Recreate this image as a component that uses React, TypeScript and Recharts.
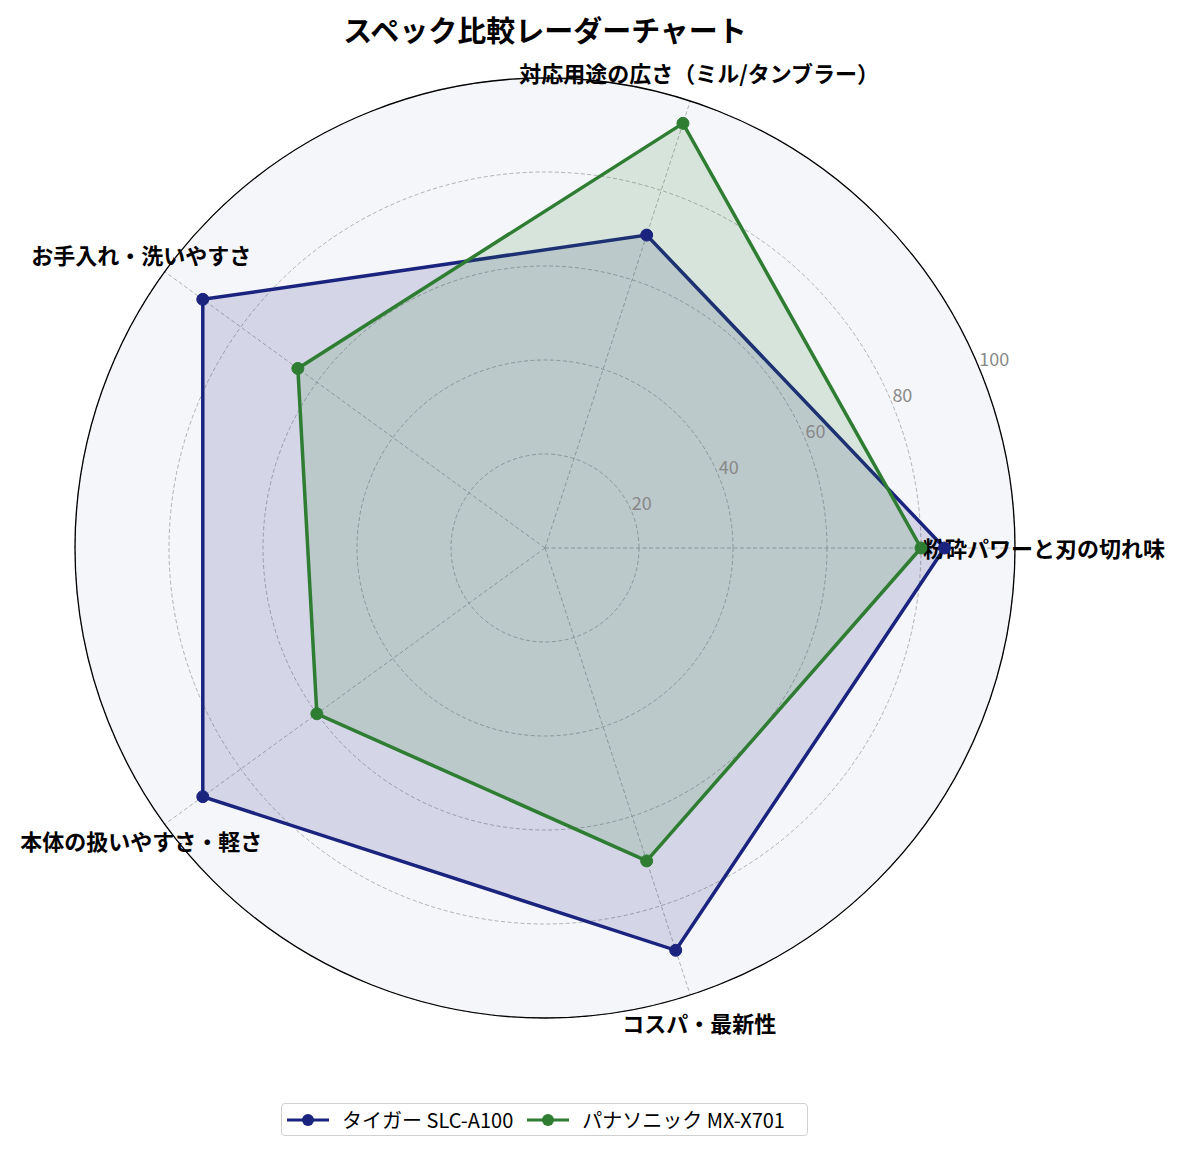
import React from 'react';
import {
  RadarChart,
  Radar,
  PolarGrid,
  PolarAngleAxis,
  PolarRadiusAxis,
  Legend,
} from 'recharts';

const categories = [
  '粉砕パワーと刃の切れ味',
  '対応用途の広さ（ミル/タンブラー）',
  'お手入れ・洗いやすさ',
  '本体の扱いやすさ・軽さ',
  'コスパ・最新性',
];
const tigerScores = [85, 70, 90, 90, 90];
const panasonicScores = [80, 95, 65, 60, 70];
const radialTicks = [20, 40, 60, 80, 100];
const seriesNames = ['タイガー SLC-A100', 'パナソニック MX-X701'];
const seriesColors = ['#1a237e', '#2e7d32'];

// the chart runs clockwise from the right, the reference counter-clockwise
const drawOrder = [0, 4, 3, 2, 1];
const data = drawOrder.map((i) => ({
  subject: categories[i],
  tiger: tigerScores[i],
  panasonic: panasonicScores[i],
}));

const W = 1184;
const H = 1152;
const CX = 545;
const CY = 548;
const R = 470;
const LABEL_R = 499;
const RADIAL_ANGLE = 22.5;
const FONT = '"Noto Sans CJK JP", "Noto Sans", sans-serif';

function AngleTick(props: any) {
  const { x, y, payload } = props;
  const dx = x - CX;
  const dy = y - CY;
  const d = Math.hypot(dx, dy) || 1;
  return (
    <text
      x={CX + (dx / d) * LABEL_R}
      y={CY + (dy / d) * LABEL_R - 1}
      textAnchor="middle"
      dominantBaseline="central"
      fontFamily={FONT}
      fontWeight="bold"
      fontSize={22}
      fill="#000"
    >
      {payload.value}
    </text>
  );
}

function RadiusTick(props: any) {
  const { payload } = props;
  if (!payload || payload.value === 0) return null;
  const r = (payload.value / 100) * R;
  const a = (RADIAL_ANGLE * Math.PI) / 180;
  return (
    <text
      x={CX + r * Math.cos(a)}
      y={CY - r * Math.sin(a) - 2}
      textAnchor="start"
      fontFamily={FONT}
      fontSize={18}
      fill="#888"
    >
      {payload.value}
    </text>
  );
}

function LegendBox() {
  return (
    <div
      style={{
        display: 'flex',
        alignItems: 'center',
        height: 33,
        border: '1.5px solid #d0d0d0',
        borderRadius: 4,
        background: '#fff',
        fontFamily: FONT,
        fontSize: 20,
        color: '#000',
        boxSizing: 'border-box',
        paddingLeft: 5,
      }}
    >
      {seriesNames.map((name, i) => (
        <div key={name} style={{ display: 'flex', alignItems: 'center', marginRight: 14 }}>
          <svg width={42} height={14} style={{ marginRight: 13 }}>
            <line x1={0} y1={7} x2={42} y2={7} stroke={seriesColors[i]} strokeWidth={3} />
            <circle cx={21} cy={7} r={6} fill={seriesColors[i]} />
          </svg>
          <span>{name}</span>
        </div>
      ))}
    </div>
  );
}

export default function App() {
  return (
    <div style={{ position: 'relative', width: W, height: H, background: '#fff' }}>
      <style>{'body{margin:0}'}</style>
      <div
        style={{
          position: 'absolute',
          left: CX - R,
          top: CY - R,
          width: R * 2,
          height: R * 2,
          borderRadius: '50%',
          background: '#f5f6fa',
        }}
      />
      <div
        style={{
          position: 'absolute',
          left: 0,
          width: W - 94,
          top: 10,
          textAlign: 'center',
          fontFamily: FONT,
          fontWeight: 'bold',
          fontSize: 29,
          lineHeight: '38px',
          color: '#000',
        }}
      >
        スペック比較レーダーチャート
      </div>
      <div style={{ position: 'absolute', left: 0, top: 0 }}>
        <RadarChart
          width={W}
          height={H}
          data={data}
          cx={CX}
          cy={CY}
          outerRadius={R}
          startAngle={0}
          endAngle={-360}
          margin={{ top: 0, right: 0, bottom: 0, left: 0 }}
        >
          <PolarGrid
            gridType="circle"
            stroke="#a0a0a0"
            strokeWidth={0.8}
            strokeDasharray="4 2.5"
          />
          <PolarAngleAxis
            dataKey="subject"
            axisLineType="circle"
            axisLine={{ stroke: '#000', strokeWidth: 1.3, strokeDasharray: '0' }}
            stroke="#000"
            tickLine={false}
            tick={<AngleTick />}
          />
          <PolarRadiusAxis
            angle={RADIAL_ANGLE}
            domain={[0, 100]}
            ticks={radialTicks as any}
            type="number"
            axisLine={false}
            tickLine={false}
            tick={<RadiusTick />}
          />
          <Radar
            name={seriesNames[0]}
            dataKey="tiger"
            stroke={seriesColors[0]}
            strokeWidth={3.5}
            fill={seriesColors[0]}
            fillOpacity={0.15}
            dot={{ r: 6, fill: seriesColors[0], stroke: seriesColors[0], strokeWidth: 1, fillOpacity: 1 }}
            isAnimationActive={false}
          />
          <Radar
            name={seriesNames[1]}
            dataKey="panasonic"
            stroke={seriesColors[1]}
            strokeWidth={3.5}
            fill={seriesColors[1]}
            fillOpacity={0.15}
            dot={{ r: 6, fill: seriesColors[1], stroke: seriesColors[1], strokeWidth: 1, fillOpacity: 1 }}
            isAnimationActive={false}
          />
          <Legend
            content={<LegendBox />}
            wrapperStyle={{ position: 'absolute', left: 281, top: 1103, width: 527, bottom: 'auto' }}
          />
        </RadarChart>
      </div>
    </div>
  );
}
